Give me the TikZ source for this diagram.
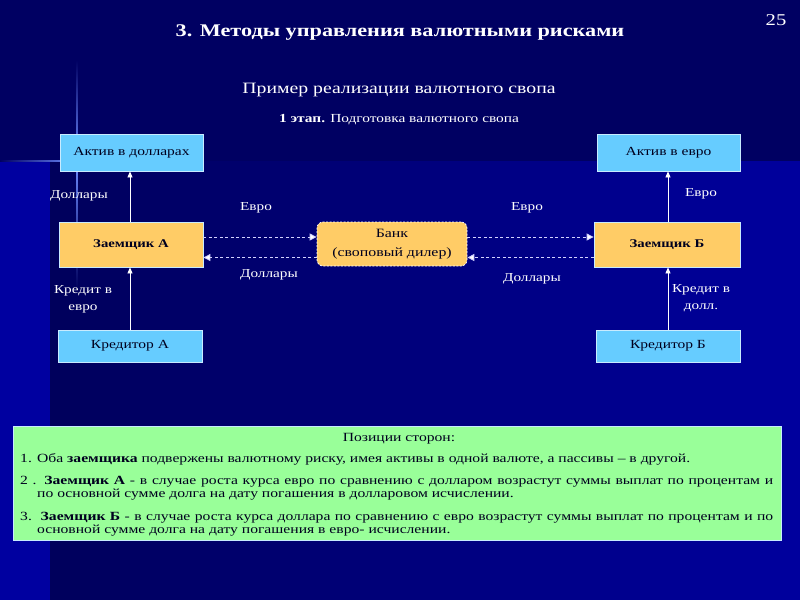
\documentclass[tikz,border=0pt]{standalone}
\usepackage{fontspec}
\setmainfont[FakeStretch=1.25]{Liberation Serif}
\usetikzlibrary{arrows.meta}
\definecolor{bgtop}{RGB}{0,0,98}
\definecolor{bgstrip}{RGB}{0,0,160}
\definecolor{bgl}{RGB}{0,0,92}
\definecolor{bgr}{RGB}{0,0,158}
\definecolor{glow}{RGB}{110,140,255}
\definecolor{boxblue}{RGB}{102,204,255}
\definecolor{boxblueedge}{RGB}{200,235,255}
\definecolor{boxorange}{RGB}{255,204,102}
\definecolor{boxgreen}{RGB}{153,255,153}
\definecolor{dashcol}{RGB}{210,210,255}
\definecolor{txtdark}{RGB}{0,0,30}
\tikzset{
  bluebox/.style={draw=boxblueedge, line width=0.8pt, fill=boxblue, text=txtdark, font=\fontsize{12.4}{15}\selectfont, inner sep=0pt},
  orangebox/.style={draw=boxblueedge, line width=0.8pt, fill=boxorange, text=txtdark, font=\fontsize{11.8}{14}\selectfont\bfseries, inner sep=0pt},
  lbl/.style={text=white, font=\fontsize{12.2}{17}\selectfont, inner sep=0pt, align=center},
  uparrow/.style={draw=white, line width=0.8pt, -{Triangle[width=5pt,length=6pt]}},
  dasharrow/.style={draw=dashcol, line width=0.9pt, dash pattern=on 3pt off 2.5pt, -{Triangle[width=7pt,length=7pt,fill=white]}},
  gtext/.style={text=txtdark, font=\fontsize{12.5}{13}\selectfont, inner sep=0pt, anchor=base west}
}
\newcommand{\twolines}[2]{\parbox[t]{753pt}{\fontsize{12.5}{13}\selectfont\lineskiplimit=-100pt\lineskip=0pt\makebox[753pt][s]{#1}\\\hspace*{17pt}#2}}
\begin{document}
\begin{tikzpicture}[x=1pt,y=-1pt]
\useasboundingbox (0,0) rectangle (800,600);
% background
\fill[bgtop] (0,0) rectangle (800,161);
\foreach \i in {0,...,75}{
  \pgfmathsetmacro{\pc}{100-\i*100/75}
  \fill[bgl!\pc!bgr] (50+\i*10,161) rectangle (60.5+\i*10,600);
}
\fill[bgstrip] (0,161) rectangle (50,600);
% glow lines
\shade[top color=bgtop, bottom color=glow] (76.3,60) rectangle (77.7,161);
\shade[top color=glow, bottom color=bgl] (76.3,161) rectangle (77.7,290);
\shade[left color=bgtop, right color=glow] (0,160.3) rectangle (77,161.7);
% titles
\node[text=white, font=\fontsize{17.8}{22}\selectfont\bfseries, inner sep=0pt] (title) at (400,33) {3. Методы управления валютными рисками};
\node[text=white, font=\fontsize{16.5}{20}\selectfont, inner sep=0pt] (num) at (776,20) {25};
\node[text=white, font=\fontsize{15.8}{20}\selectfont, inner sep=0pt] (sub) at (399,90) {Пример реализации валютного свопа};
\node[text=white, font=\fontsize{12.3}{15}\selectfont, inner sep=0pt] (stage) at (399,120) {\textbf{1 этап.} Подготовка валютного свопа};
% boxes
\node[bluebox, minimum width=143pt, minimum height=37pt] (aktA) at (131.5,152.5) {Актив в долларах};
\node[orangebox, minimum width=144pt, minimum height=45pt] (zaemA) at (131,244.5) {Заемщик А};
\node[bluebox, minimum width=144pt, minimum height=32pt] (kredA) at (130,346) {Кредитор А};
\node[bluebox, minimum width=143pt, minimum height=37pt] (aktB) at (668.5,152.5) {Актив в евро};
\node[orangebox, minimum width=146pt, minimum height=45pt] (zaemB) at (667,244.5) {Заемщик Б};
\node[bluebox, minimum width=144pt, minimum height=32pt] (kredB) at (668,346) {Кредитор Б};
\node[draw=white, dash pattern=on 2pt off 1.5pt, line width=0.7pt, fill=boxorange, rounded corners=6pt, text=txtdark, font=\fontsize{12.7}{19}\selectfont, align=center, minimum width=150pt, minimum height=44pt, inner sep=0pt] (bank) at (392,244) {Банк\\(своповый дилер)};
% vertical arrows
\draw[uparrow] (zaemA.north -| 130,0) -- (aktA.south -| 130,0);
\draw[uparrow] (kredA.north -| 130,0) -- (zaemA.south -| 130,0);
\draw[uparrow] (zaemB.north -| 668,0) -- (aktB.south -| 668,0);
\draw[uparrow] (kredB.north -| 668,0) -- (zaemB.south -| 668,0);
% horizontal dashed arrows
\draw[dasharrow] (zaemA.east |- 0,237) -- (bank.west |- 0,237);
\draw[dasharrow] (bank.east |- 0,237) -- (zaemB.west |- 0,237);
\draw[dasharrow] (zaemB.west |- 0,257.5) -- (bank.east |- 0,257.5);
\draw[dasharrow] (bank.west |- 0,257.5) -- (zaemA.east |- 0,257.5);
% labels
\node[lbl] (l1) at (79,196) {Доллары};
\node[lbl] (l2) at (256,208) {Евро};
\node[lbl] (l3) at (269,275) {Доллары};
\node[lbl] (l4) at (527,208) {Евро};
\node[lbl] (l5) at (532,279) {Доллары};
\node[lbl] (l6) at (701,194) {Евро};
\node[lbl] (l7) at (83,299) {Кредит в\\евро};
\node[lbl] (l8) at (701,298) {Кредит в\\долл.};
% green box
\node[draw=boxblueedge, line width=0.8pt, fill=boxgreen, minimum width=768pt, minimum height=114pt, inner sep=0pt] (green) at (397,483) {};
\node[text=txtdark, font=\fontsize{12.5}{13}\selectfont, inner sep=0pt, anchor=base] (gt) at (399,441) {Позиции сторон:};
\node[gtext] (g1) at (20,462) {1. Оба \textbf{заемщика} подвержены валютному риску, имея активы в одной валюте, а пассивы – в другой.};
\node[gtext] (g2) at (20,484) {\twolines{2 . \textbf{Заемщик А} - в случае роста курса евро по сравнению с долларом возрастут суммы выплат по процентам и}{по основной сумме долга на дату погашения в долларовом исчислении.}};
\node[gtext] (g3) at (20,520) {\twolines{3.\ \ \textbf{Заемщик Б} - в случае роста курса доллара по сравнению с евро возрастут суммы выплат по процентам и по}{основной сумме долга на дату погашения в евро- исчислении.}};
\end{tikzpicture}
\end{document}
